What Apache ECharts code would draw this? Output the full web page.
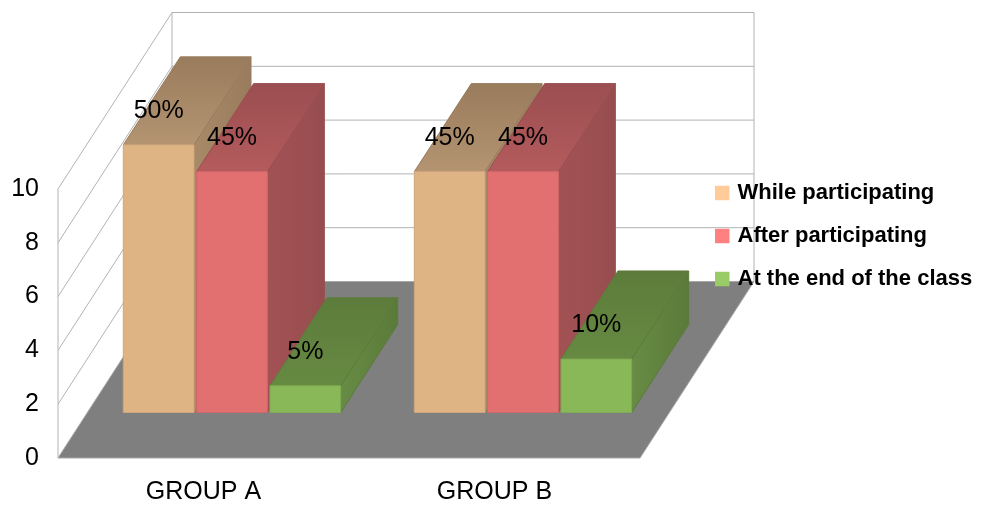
<!DOCTYPE html>
<html>
<head>
<meta charset="utf-8">
<style>html,body{margin:0;padding:0;background:#fff}#chart{width:991px;height:506px}</style>
<script src="https://cdn.jsdelivr.net/npm/echarts@6/dist/echarts.min.js"></script>
</head>
<body>
<div id="chart"></div>
<script>
// Survey results by group, in percent
const categories = ['GROUP A', 'GROUP B'];
const whileParticipating = [50, 45];
const afterParticipating = [45, 45];
const endOfClass = [5, 10];

// Value ticks and the numbers printed beside them
const tickValues = [0, 10, 20, 30, 40, 50];
const tickLabels = ['0', '2', '4', '6', '8', '10'];

const FONT = '"Liberation Sans", Arial, sans-serif';

// Oblique projection: how far the box recedes, and where a bar sits inside it
const boxDepth = { x: 114, y: -176.5 };
const barFront = { x: 28.5, y: -45.5 };
const barBack = { x: 85.5, y: -133.5 };
const heightScale = 0.995;

const vGrad = (top, bottom) => new echarts.graphic.LinearGradient(0, 0, 0, 1, [
  { offset: 0, color: top }, { offset: 1, color: bottom }
]);
const hGrad = (left, right) => new echarts.graphic.LinearGradient(0, 0, 1, 0, [
  { offset: 0, color: left }, { offset: 1, color: right }
]);

const poly = (points, fill, stroke, lineWidth) => ({
  type: 'polygon',
  shape: { points },
  style: { fill, stroke: stroke || fill, lineWidth: lineWidth === undefined ? 1 : lineWidth, lineJoin: 'round' }
});

// Floor, side wall and back wall, with one gridline per tick on both walls
function renderBox(params, api) {
  const cs = params.coordSys;
  const y = api.coord([0, api.value(1)])[1];
  const x0 = cs.x, x1 = cs.x + cs.width;
  const bx = x0 + boxDepth.x, ex = x1 + boxDepth.x;
  const dy = boxDepth.y;
  const wall = '#b3b3b3';
  const line = (a, b, c, d) => ({
    type: 'line',
    shape: { x1: a, y1: b, x2: c, y2: d },
    style: { stroke: wall, lineWidth: 1, fill: null }
  });
  const children = [];
  if (api.value(1) === 0) {
    const top = cs.y;
    children.push(poly([[x0, y], [x1, y], [ex, y + dy], [bx, y + dy]], '#7f7f7f', '#a8a8a8', 1));
    children.push(line(x0, y, x0, top));
    children.push(line(bx, y + dy, bx, top + dy));
    children.push(line(ex, y + dy, ex, top + dy));
  } else {
    children.push(line(x0, y, bx, y + dy));
    children.push(line(bx, y + dy, ex, y + dy));
  }
  return { type: 'group', children };
}

// One 3D bar: side and top faces first, the front face over them, then the label
function barRenderer(index, faces) {
  return function (params, api) {
    const cat = api.value(0);
    const val = api.value(1);
    const band = api.size([1, 0])[0];
    const centre = api.coord([cat, 0]);
    const topFlat = api.coord([cat, val])[1];
    const rise = (centre[1] - topFlat) * heightScale;
    const pitch = band * 0.252;
    const w = band * 0.243;
    const left = centre[0] + barFront.x + (index - 1) * pitch - w / 2;
    const right = left + w;
    const bottom = centre[1] + barFront.y;
    const top = bottom - rise;
    const dx = barBack.x - barFront.x;
    const dy = barBack.y - barFront.y;
    return {
      type: 'group',
      children: [
        poly([[right, top], [right + dx, top + dy], [right + dx, bottom + dy], [right, bottom]],
          hGrad(faces.sideNear, faces.sideFar), faces.sideFar),
        poly([[left, top], [right, top], [right + dx, top + dy], [left + dx, top + dy]],
          vGrad(faces.topBack, faces.topNear), faces.topBack),
        poly([[left, top], [right, top], [right, bottom], [left, bottom]],
          faces.front, faces.edge),
        {
          type: 'text',
          z2: 100,
          style: {
            x: left + w / 2,
            y: top - 34,
            text: val + '%',
            font: '25px ' + FONT,
            fill: '#000',
            align: 'center',
            verticalAlign: 'middle'
          }
        }
      ]
    };
  };
}

const barSeries = (name, values, index, legendColor, faces) => ({
  name,
  type: 'custom',
  coordinateSystem: 'cartesian2d',
  itemStyle: { color: legendColor },
  data: values.map((v, i) => [i, v]),
  encode: { x: 0, y: 1 },
  renderItem: barRenderer(index, faces)
});

const chart = echarts.init(document.getElementById('chart'), null, { renderer: 'canvas' });
chart.setOption({
  animation: false,
  backgroundColor: '#fff',
  grid: { left: 58, top: 189, width: 582, height: 269, containLabel: false },
  xAxis: {
    type: 'category',
    data: categories,
    axisLine: { show: false },
    axisTick: { show: false },
    axisLabel: { fontFamily: FONT, fontSize: 25, color: '#000', margin: 22 }
  },
  yAxis: {
    type: 'value',
    min: 0,
    max: 50,
    interval: 10,
    axisLine: { show: false },
    axisTick: { show: false },
    splitLine: { show: false },
    axisLabel: {
      fontFamily: FONT, fontSize: 25, color: '#000', margin: 19,
      formatter: (v) => tickLabels[tickValues.indexOf(v)]
    }
  },
  legend: {
    left: 710,
    top: 177,
    orient: 'vertical',
    icon: 'rect',
    itemWidth: 14.5,
    itemHeight: 14.5,
    itemGap: 21,
    selectedMode: false,
    data: ['While participating', 'After participating', 'At the end of the class'],
    textStyle: { fontFamily: FONT, fontSize: 22, fontWeight: 'bold', color: '#000', padding: [0, 0, 0, 3] }
  },
  series: [
    {
      type: 'custom',
      coordinateSystem: 'cartesian2d',
      silent: true,
      data: tickValues.map((v) => [0, v]),
      encode: { x: 0, y: 1 },
      renderItem: renderBox
    },
    barSeries('While participating', whileParticipating, 0, '#FFCC99', {
      front: '#dfb485', edge: '#cfa67c',
      topBack: '#997c5d', topNear: '#b49471',
      sideNear: '#a88a68', sideFar: '#997c5d'
    }),
    barSeries('After participating', afterParticipating, 1, '#FF8080', {
      front: '#e27070', edge: '#d06768',
      topBack: '#9b4e50', topNear: '#b45b5d',
      sideNear: '#a35254', sideFar: '#964d4f'
    }),
    barSeries('At the end of the class', endOfClass, 2, '#99CC66', {
      front: '#89b859', edge: '#7fab52',
      topBack: '#5d7c3b', topNear: '#668a42',
      sideNear: '#678c45', sideFar: '#5a7a39'
    })
  ]
});
</script>
</body>
</html>
